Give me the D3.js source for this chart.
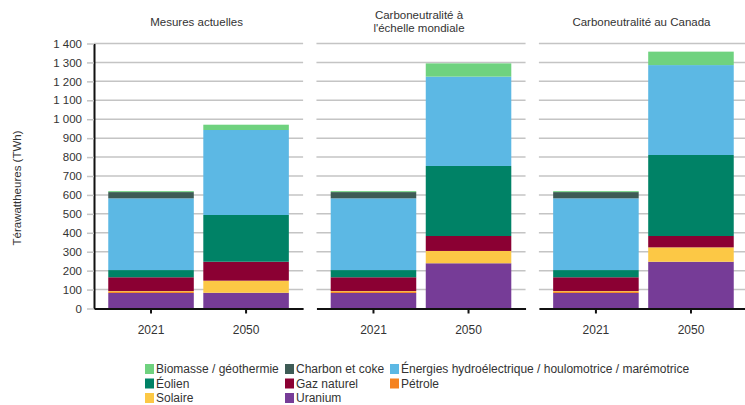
<!DOCTYPE html>
<html>
<head>
<meta charset="utf-8">
<script src="https://cdn.jsdelivr.net/npm/d3@7"></script>
<style>
  body { margin: 0; background: #fff; }
  svg { display: block; font-family: "Liberation Sans", Arial, sans-serif; }
</style>
</head>
<body>
<svg id="chart" width="745" height="405"></svg>
<script>
// ---- Data ----
const scenarios = ["Mesures actuelles", "Carboneutralité à|l'échelle mondiale", "Carboneutralité au Canada"];
const years = ["2021", "2050"];
const yTicks = [0, 100, 200, 300, 400, 500, 600, 700, 800, 900, 1000, 1100, 1200, 1300, 1400];
// values ordered: [S1-2021, S1-2050, S2-2021, S2-2050, S3-2021, S3-2050]
const uranium  = [82, 83, 82, 239, 82, 247];
const petrole  = [5, 0, 5, 0, 5, 0];
const solaire  = [5, 64, 5, 65, 5, 76];
const gaz      = [73, 100, 73, 79, 73, 60];
const eolien   = [38, 247, 38, 370, 38, 428];
const hydro    = [379, 449, 379, 472, 379, 475];
const charbon  = [33, 0, 33, 0, 33, 0];
const biomasse = [5, 28, 5, 70, 5, 71];

const seriesNames = ["Uranium", "Pétrole", "Solaire", "Gaz naturel", "Éolien",
  "Énergies hydroélectrique / houlomotrice / marémotrice", "Charbon et coke", "Biomasse / géothermie"];
const seriesValues = [uranium, petrole, solaire, gaz, eolien, hydro, charbon, biomasse];
const seriesColors = ["#763c97", "#f58220", "#fcc845", "#8b0033", "#008266", "#5cb8e4", "#3e5b55", "#6fd27f"];
const legendOrder = ["Biomasse / géothermie", "Éolien", "Solaire", "Charbon et coke", "Gaz naturel", "Uranium",
  "Énergies hydroélectrique / houlomotrice / marémotrice", "Pétrole"];

(function () {
// ---- Build table ----
const rows = [];
scenarios.forEach((s, si) => years.forEach((yr, yi) => {
  const r = { scenario: s, year: yr };
  seriesNames.forEach((n, k) => r[n] = seriesValues[k][si * 2 + yi]);
  rows.push(r);
}));
const stack = d3.stack().keys(seriesNames)(rows);

const svg = d3.select("#chart");
const plotTop = 43.5, plotBottom = 308.5;
const y = d3.scaleLinear().domain([0, 1400]).range([plotBottom, plotTop]);
const xPanel = d3.scaleBand().domain(scenarios).range([94, 748]).paddingInner(0.06).paddingOuter(0);
const xYear = d3.scaleBand().domain(years).range([0, xPanel.bandwidth()]).paddingInner(0.1).paddingOuter(0.15);
const color = d3.scaleOrdinal().domain(seriesNames).range(seriesColors);
const fr = d3.formatLocale({ decimal: ",", thousands: "\u00a0", grouping: [3], currency: ["", " $"] });
const fmt = fr.format(",d");

// gridlines per panel
scenarios.forEach(s => {
  const g = svg.append("g").attr("transform", `translate(${xPanel(s)},0)`);
  g.selectAll("line.grid").data(yTicks.filter(t => t > 0)).join("line")
    .attr("x1", 0).attr("x2", xPanel.bandwidth())
    .attr("y1", d => y(d)).attr("y2", d => y(d))
    .attr("stroke", "#c4c4c4").attr("stroke-width", 1.5);
});

// bars
const layers = svg.append("g").selectAll("g").data(stack).join("g").attr("fill", d => color(d.key));
layers.selectAll("rect").data(d => d).join("rect")
  .attr("x", d => xPanel(d.data.scenario) + xYear(d.data.year))
  .attr("width", xYear.bandwidth())
  .attr("y", d => y(d[1]))
  .attr("height", d => y(d[0]) - y(d[1]));

// x axes
scenarios.forEach(s => {
  const g = svg.append("g").attr("transform", `translate(${xPanel(s)},${plotBottom})`);
  const ax = d3.axisBottom(xYear).tickSize(5).tickSizeOuter(0).tickPadding(12);
  g.call(ax);
  g.select(".domain").attr("stroke", "#111").attr("stroke-width", 2);
  g.selectAll(".tick line").attr("stroke", "#111").attr("stroke-width", 2);
  g.selectAll(".tick text").attr("fill", "#333").attr("font-size", 12)
    .attr("font-family", "'Liberation Sans', Arial, sans-serif");
});

// y axis
const gy = svg.append("g").attr("transform", `translate(94,0)`);
gy.call(d3.axisLeft(y).tickValues(yTicks).tickFormat(fmt).tickSize(7).tickPadding(5).tickSizeOuter(0));
gy.select(".domain").attr("stroke", "#111").attr("stroke-width", 2);
gy.selectAll(".tick line").attr("stroke", "#c4c4c4").attr("stroke-width", 1.5);
gy.selectAll(".tick text").attr("fill", "#333").attr("font-size", 11.5)
  .attr("font-family", "'Liberation Sans', Arial, sans-serif");

// y title
svg.append("text").attr("transform", "translate(21,188) rotate(-90)")
  .attr("text-anchor", "middle").attr("font-size", 11.5).attr("fill", "#333")
  .text("Térawattheures (TWh)");

// panel titles
scenarios.forEach(s => {
  const lines = s.split("|");
  const cx = xPanel(s) + xPanel.bandwidth() / 2 - 2;
  const t = svg.append("text").attr("text-anchor", "middle").attr("font-size", 11.5).attr("fill", "#333");
  const y0 = lines.length === 1 ? 26 : 19;
  lines.forEach((l, i) => t.append("tspan").attr("x", cx).attr("y", y0 + i * 13).text(l));
});

// legend
const colX = [145, 285, 390];
const rowY = [369, 383.5, 398];
const leg = svg.append("g");
legendOrder.forEach((n, i) => {
  const c = Math.floor(i / 3), r = i % 3;
  const g = leg.append("g").attr("transform", `translate(${colX[c]},${rowY[r]})`);
  g.append("rect").attr("x", 0).attr("y", -5).attr("width", 9).attr("height", 10).attr("fill", color(n));
  g.append("text").attr("x", 11).attr("y", 4).attr("font-size", 12).attr("fill", "#333").text(n);
});
})();
</script>
</body>
</html>
